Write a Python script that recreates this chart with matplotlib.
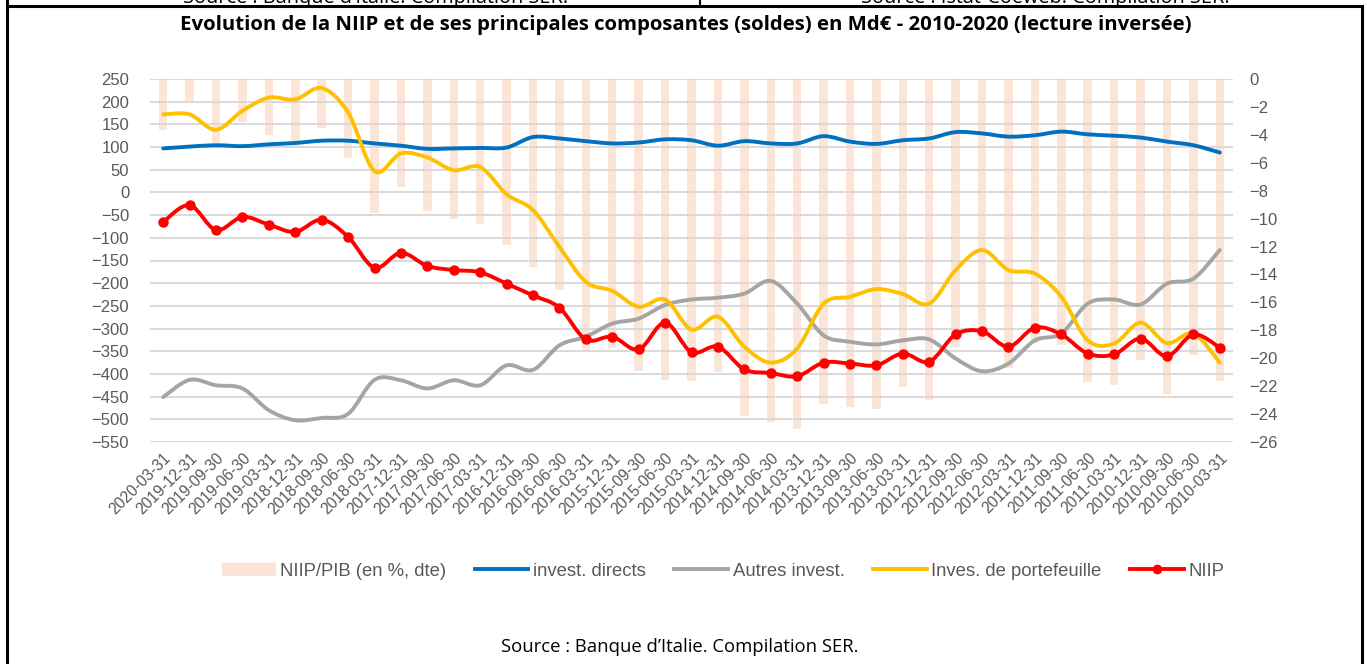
import matplotlib
matplotlib.use("Agg")
import matplotlib.pyplot as plt
import numpy as np
from matplotlib.path import Path
from matplotlib.patches import PathPatch
from matplotlib.lines import Line2D

# quarters, shown newest first (reversed reading)
dates = ["2020-03-31", "2019-12-31", "2019-09-30", "2019-06-30", "2019-03-31",
         "2018-12-31", "2018-09-30", "2018-06-30", "2018-03-31", "2017-12-31",
         "2017-09-30", "2017-06-30", "2017-03-31", "2016-12-31", "2016-09-30",
         "2016-06-30", "2016-03-31", "2015-12-31", "2015-09-30", "2015-06-30",
         "2015-03-31", "2014-12-31", "2014-09-30", "2014-06-30", "2014-03-31",
         "2013-12-31", "2013-09-30", "2013-06-30", "2013-03-31", "2012-12-31",
         "2012-09-30", "2012-06-30", "2012-03-31", "2011-12-31", "2011-09-30",
         "2011-06-30", "2011-03-31", "2010-12-31", "2010-09-30", "2010-06-30",
         "2010-03-31"]

# NIIP/PIB in % (right axis)
niip_pib = [-3.66, -1.62, -4.56, -3.06, -4.01, -4.90, -3.49, -5.69, -9.58, -7.72,
            -9.44, -10.06, -10.35, -11.90, -13.45, -15.08, -19.47, -19.30, -20.90, -21.59,
            -21.62, -20.98, -24.13, -24.56, -25.09, -23.25, -23.49, -23.66, -22.05, -22.96,
            -19.19, -18.70, -20.70, -18.90, -19.07, -21.70, -21.94, -20.10, -22.53, -19.78,
            -21.62]

# soldes en Md EUR (left axis)
invest_directs = [97, 101, 104, 102, 106, 109, 114, 114, 108, 103,
                  96, 97, 98, 99, 122, 119, 113, 108, 110, 117,
                  115, 103, 113, 108, 108, 124, 112, 107, 115, 119,
                  133, 130, 123, 126, 134, 128, 125, 121, 112, 104,
                  88]
autres_invest = [-451, -413, -425, -432, -480, -502, -497, -488, -413, -414,
                 -432, -414, -425, -381, -391, -337, -318, -289, -278, -248,
                 -236, -232, -223, -195, -245, -315, -329, -335, -326, -324,
                 -366, -394, -377, -326, -311, -245, -236, -247, -201, -190,
                 -127]
portefeuille = [172, 172, 138, 180, 209, 205, 230, 176, 47, 86,
                77, 49, 56, -4, -39, -120, -197, -217, -252, -236,
                -302, -274, -340, -375, -344, -245, -230, -213, -224, -245,
                -171, -127, -171, -179, -230, -326, -333, -287, -332, -311,
                -375]
niip = [-65, -28, -83, -54, -71, -87, -60, -98, -166, -133,
        -162, -171, -176, -201, -227, -254, -324, -318, -346, -287,
        -352, -340, -390, -398, -405, -375, -377, -381, -355, -373,
        -313, -306, -340, -298, -313, -355, -357, -322, -361, -313,
        -342]

COLORS = {'bar': '#fbe5d6', 'direct': '#0070c0', 'autres': '#a5a5a5',
          'ptf': '#ffc000', 'niip': '#ff0000', 'text': '#595959', 'grid': '#d9d9d9'}
LW = 2.8


def smooth_path(xs, ys):
    # Excel-like smoothed line: cubic bezier through every point
    pts = np.column_stack([xs, ys]).astype(float)
    n = len(pts)
    verts = [pts[0]]
    codes = [Path.MOVETO]
    for i in range(n - 1):
        p0 = pts[max(i - 1, 0)]
        p1 = pts[i]
        p2 = pts[i + 1]
        p3 = pts[min(i + 2, n - 1)]
        verts += [p1 + (p2 - p0) / 6.0, p2 - (p3 - p1) / 6.0, p2]
        codes += [Path.CURVE4] * 3
    return Path(verts, codes)


def draw_smooth(ax, xs, ys, color):
    patch = PathPatch(smooth_path(xs, ys), fill=False, edgecolor=color, lw=LW,
                      capstyle='round', joinstyle='round', zorder=3)
    ax.add_patch(patch)


W, H = 1367, 664
fig = plt.figure(figsize=(W / 100, H / 100), dpi=100)
plt.rcParams['font.family'] = ['Liberation Sans', 'DejaVu Sans']
TITLE_FONT = ['Open Sans', 'DejaVu Sans']

x = np.arange(len(dates))

# main axes (left, Md EUR) on top, bars on the twin (right, %)
ax = fig.add_axes([150 / W, 1 - 442 / H, (1233 - 150) / W, (442 - 79) / H])
ax2 = ax.twinx()
ax.set_zorder(ax2.get_zorder() + 1)
ax.patch.set_visible(False)

ax2.bar(x, niip_pib, width=0.32, color=COLORS['bar'], zorder=1)
ax2.set_ylim(-26, 0)
ax2.set_yticks(np.arange(-26, 1, 2))

draw_smooth(ax, x, invest_directs, COLORS['direct'])
draw_smooth(ax, x, autres_invest, COLORS['autres'])
draw_smooth(ax, x, portefeuille, COLORS['ptf'])
draw_smooth(ax, x, niip, COLORS['niip'])
ax.plot(x, niip, 'o', ms=6.5, color=COLORS['niip'], zorder=4)

ax.set_xlim(-0.5, len(dates) - 0.5)
ax.set_ylim(-550, 250)
ax.set_yticks(np.arange(-550, 251, 50))
ax.yaxis.grid(True, color=COLORS['grid'], lw=1.4)
ax.set_axisbelow(True)

ax.set_xticks(x)
ax.set_xticklabels(dates, rotation=45, ha='right', rotation_mode='anchor',
                   fontsize=11.2, color=COLORS['text'])

for a in (ax, ax2):
    for sp in a.spines.values():
        sp.set_visible(False)
ax.tick_params(axis='y', length=0, pad=15, labelsize=12, labelcolor=COLORS['text'])
ax.tick_params(axis='x', length=0, pad=6)
ax2.tick_params(axis='y', length=0, pad=12, labelsize=12, labelcolor=COLORS['text'])
ax2.tick_params(axis='x', length=0)

# legend under the chart
handles = [
    plt.Rectangle((0, 0), 1, 1, color=COLORS['bar']),
    Line2D([], [], color=COLORS['direct'], lw=LW),
    Line2D([], [], color=COLORS['autres'], lw=LW),
    Line2D([], [], color=COLORS['ptf'], lw=LW),
    Line2D([], [], color=COLORS['niip'], lw=LW, marker='o', ms=6),
]
labels = ["NIIP/PIB (en %, dte)", "invest. directs", "Autres invest.",
          "Inves. de portefeuille", "NIIP"]
leg = fig.legend(handles, labels, loc='center', bbox_to_anchor=(723 / W, 1 - 571 / H),
                 ncol=5, frameon=False, fontsize=13.3, handlelength=2.9,
                 handletextpad=0.25, columnspacing=1.55, handleheight=0.55)
for t in leg.get_texts():
    t.set_color(COLORS['text'])

fig.text(686 / W, 1 - 25 / H,
         "Evolution de la NIIP et de ses principales composantes (soldes) en Md€ - 2010-2020 (lecture inversée)",
         ha='center', va='center', fontsize=14.7, fontweight='bold', family=TITLE_FONT)
fig.text(680 / W, 1 - 647 / H, "Source : Banque d’Italie. Compilation SER.",
         ha='center', va='center', fontsize=13.3, family=TITLE_FONT)

# cut-off frame of the previous table row at the top
fig.text(376 / W, 1 - 3 / H, "Source : Banque d’Italie. Compilation SER.",
         ha='center', va='baseline', fontsize=14.3, family=TITLE_FONT)
fig.text(1045 / W, 1 - 3 / H, "Source : Istat-Coeweb. Compilation SER.",
         ha='center', va='baseline', fontsize=14.3, family=TITLE_FONT)
fig.add_artist(Line2D([7 / W, 1362 / W], [1 - 6 / H, 1 - 6 / H], color='black', lw=2.2))
fig.add_artist(Line2D([700 / W, 700 / W], [1, 1 - 6 / H], color='black', lw=1.5))
fig.add_artist(Line2D([7 / W, 7 / W], [0, 1], color='black', lw=2.2))
fig.add_artist(Line2D([1362 / W, 1362 / W], [0, 1 - 6 / H], color='black', lw=2.2))

fig.savefig("out.png", dpi=100)
